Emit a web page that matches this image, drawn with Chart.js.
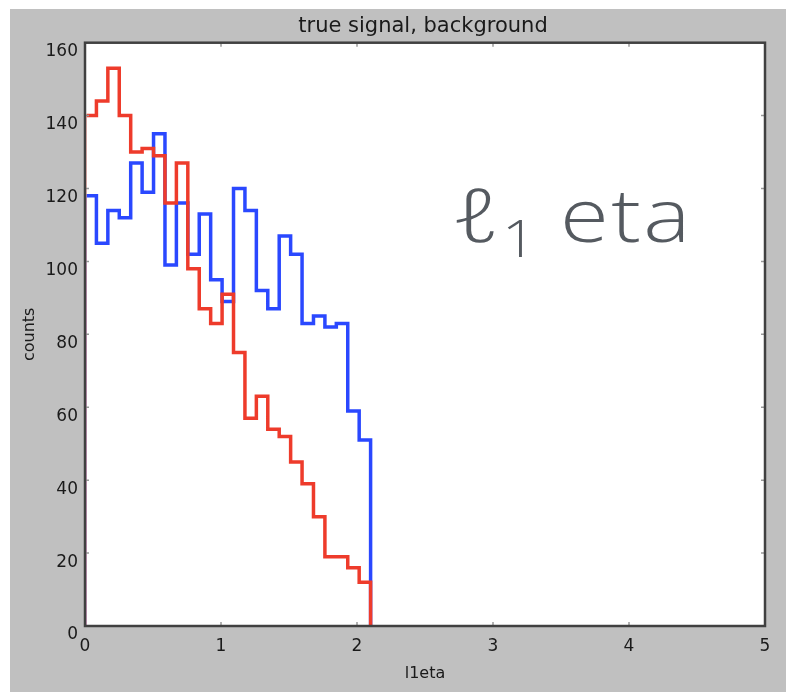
<!DOCTYPE html>
<html><head><meta charset="utf-8">
<script src="https://cdn.jsdelivr.net/npm/chart.js@4.4.1/dist/chart.umd.min.js"></script>
<style>
html,body{margin:0;padding:0;background:#fff;width:796px;height:692px;overflow:hidden}
#wrap{position:absolute;left:10px;top:9px;width:776px;height:683px;background:#c0c0c0}
canvas{display:block}
</style></head><body>
<div id="wrap"><canvas id="c" width="776" height="683"></canvas></div>
<script>
// bin edges of the l1eta histogram (25 bins)
const binEdges = [0, 0.084, 0.168, 0.252, 0.336, 0.42, 0.504, 0.588, 0.672, 0.756, 0.84, 0.924, 1.008,
  1.092, 1.176, 1.26, 1.344, 1.428, 1.512, 1.596, 1.68, 1.764, 1.848, 1.932, 2.016, 2.1];
// signal (blue)
const signalCounts = [118, 105, 114, 112, 127, 119, 135, 99, 116, 102, 113, 95, 89,
  120, 114, 92, 87, 107, 102, 83, 85, 82, 83, 59, 51];
// background (red)
const backgroundCounts = [140, 144, 153, 140, 130, 131, 129, 116, 127, 98, 87, 83, 91,
  75, 57, 63, 54, 52, 45, 39, 30, 19, 19, 16, 12];
const xTickValues = [0, 1, 2, 3, 4, 5];
const yTickValues = [0, 20, 40, 60, 80, 100, 120, 140, 160];
const chartTitle = 'true signal, background';
const xTitle = 'l1eta';
const yTitle = 'counts';

function stepPoints(edges, counts) {
  const pts = [{x: edges[0], y: 0}];
  counts.forEach((c, i) => pts.push({x: edges[i], y: c}));
  pts.push({x: edges[edges.length - 1], y: counts[counts.length - 1]});
  pts.push({x: edges[edges.length - 1], y: 0});
  return pts;
}

const plotBg = {
  id: 'plotBg',
  beforeDraw(chart) {
    const {ctx, chartArea: a} = chart;
    ctx.save();
    ctx.fillStyle = '#ffffff';
    ctx.fillRect(a.left, a.top, a.right - a.left, a.bottom - a.top);
    ctx.fillStyle = '#1a1a1a';
    ctx.font = '21px "DejaVu Sans"';
    ctx.textAlign = 'center';
    ctx.textBaseline = 'alphabetic';
    ctx.fillText(chartTitle, (a.left + a.right) / 2 - 2, 23);
    ctx.restore();
  }
};

const frameTicks = {
  id: 'frameTicks',
  afterDatasetsDraw(chart) {
    const {ctx, chartArea: a, scales: {x, y}} = chart;
    ctx.save();
    ctx.strokeStyle = '#9a9a9a';
    ctx.lineWidth = 1.5;
    const L = 4;
    xTickValues.forEach(v => {
      const px = x.getPixelForValue(v);
      ctx.beginPath();
      ctx.moveTo(px, a.bottom); ctx.lineTo(px, a.bottom - L);
      ctx.moveTo(px, a.top); ctx.lineTo(px, a.top + L);
      ctx.stroke();
    });
    yTickValues.forEach(v => {
      const py = y.getPixelForValue(v);
      ctx.beginPath();
      ctx.moveTo(a.left, py); ctx.lineTo(a.left + L, py);
      ctx.moveTo(a.right, py); ctx.lineTo(a.right - L, py);
      ctx.stroke();
    });
    ctx.strokeStyle = '#404040';
    ctx.lineWidth = 2.5;
    ctx.strokeRect(a.left, a.top, a.right - a.left, a.bottom - a.top);
    ctx.restore();
  }
};

const annotation = {
  id: 'annotation',
  afterDraw(chart) {
    const ctx = chart.ctx;
    ctx.save();
    ctx.fillStyle = '#555a60';
    ctx.textBaseline = 'alphabetic';
    ctx.textAlign = 'left';
    ctx.save();
    ctx.translate(441, 233); ctx.scale(1.35, 1);
    ctx.font = '300 74px "Open Sans", "DejaVu Sans"';
    ctx.fillText('ℓ', 0, 0);
    ctx.restore();
    ctx.save();
    ctx.translate(492, 248); ctx.scale(1.15, 1);
    ctx.font = '300 52px "Open Sans"';
    ctx.fillText('1', 0, 0);
    ctx.restore();
    ctx.save();
    ctx.translate(550, 233); ctx.scale(1.2, 1);
    ctx.font = '300 74px "Open Sans"';
    ctx.letterSpacing = '2px';
    ctx.fillText('eta', 0, 0);
    ctx.restore();
    ctx.restore();
  }
};

const clipBox = {left: -1.6, top: 0, right: 0, bottom: 0};

new Chart(document.getElementById('c'), {
  type: 'line',
  data: {
    datasets: [
      {label: 'background', data: stepPoints(binEdges, backgroundCounts), borderColor: '#ee3b2b',
       borderWidth: 3.5, stepped: true, pointRadius: 0, fill: false, order: 0, clip: clipBox,
       borderJoinStyle: 'miter', borderCapStyle: 'butt'},
      {label: 'signal', data: stepPoints(binEdges, signalCounts), borderColor: '#2a48ff',
       borderWidth: 3.5, stepped: true, pointRadius: 0, fill: false, order: 1, clip: clipBox,
       borderJoinStyle: 'miter', borderCapStyle: 'butt'}
    ]
  },
  options: {
    responsive: false,
    animation: false,
    layout: {padding: {left: 0, right: 21, top: 33.7, bottom: 0}},
    plugins: {
      legend: {display: false},
      tooltip: {enabled: false},
      title: {display: false}
    },
    scales: {
      x: {type: 'linear', min: 0, max: 5,
        afterBuildTicks: s => { s.ticks = xTickValues.map(v => ({value: v})); },
        afterFit: s => { s.height = 66; },
        ticks: {color: '#1a1a1a', font: {family: 'DejaVu Sans', size: 17}, padding: 10},
        grid: {display: true, drawOnChartArea: false, drawTicks: false},
        border: {display: false},
        title: {display: true, text: xTitle, color: '#1a1a1a',
          font: {family: 'DejaVu Sans', size: 16}, padding: {top: 0, bottom: 9}}
      },
      y: {type: 'linear', min: 0, max: 160,
        afterBuildTicks: s => { s.ticks = yTickValues.map(v => ({value: v})); },
        afterFit: s => { s.width = 75; },
        ticks: {color: '#1a1a1a', font: {family: 'DejaVu Sans', size: 17}, padding: 7, labelOffset: 9},
        grid: {display: true, drawOnChartArea: false, drawTicks: false},
        border: {display: false},
        title: {display: true, text: yTitle, color: '#1a1a1a',
          font: {family: 'DejaVu Sans', size: 16}, padding: {top: 10, bottom: 0}}
      }
    }
  },
  plugins: [plotBg, frameTicks, annotation]
});
</script>
</body></html>
